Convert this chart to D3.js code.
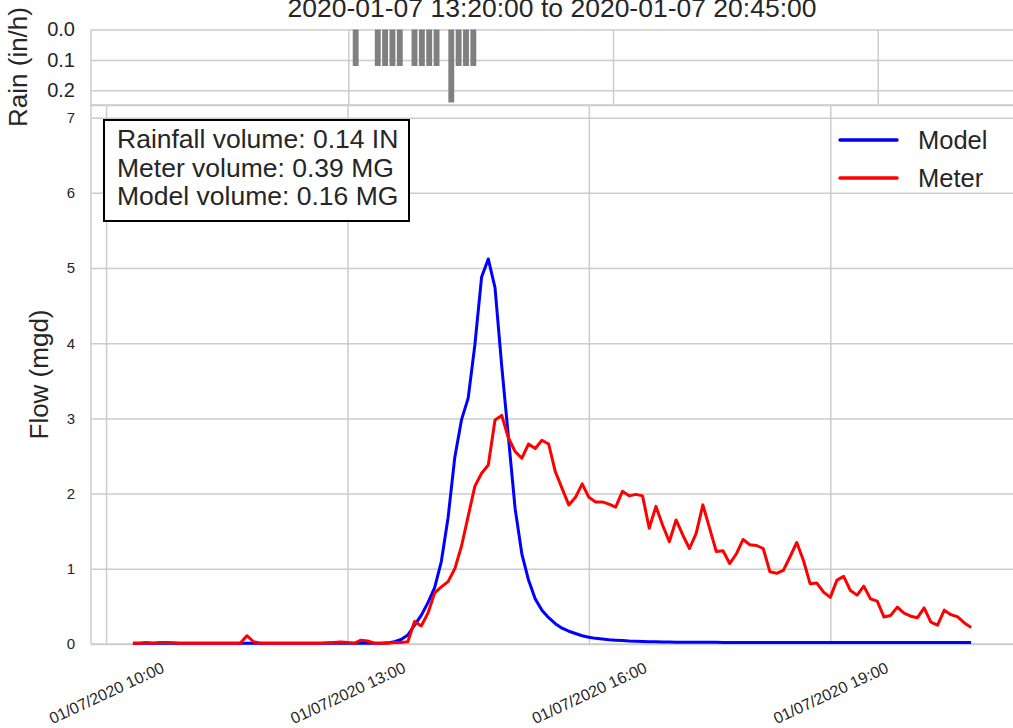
<!DOCTYPE html>
<html>
<head>
<meta charset="utf-8">
<title>Flow vs rain</title>
<script src="https://d3js.org/d3.v7.min.js"></script>
<style>
  body { margin: 0; background: white; }
  svg { display: block; font-family: "Liberation Sans", Arial, sans-serif; }
</style>
</head>
<body>
<svg id="chart" width="1013" height="728"></svg>
<script>
// ---- data ----
const flowStart = "2020-01-07 10:20";   // first flow sample, 5 minute steps
const flowStepMin = 5;

const modelFlow = [
  0.01, 0.01, 0.01, 0.01, 0.01, 0.01, 0.01, 0.01, 0.01, 0.01,
  0.01, 0.01, 0.01, 0.01, 0.01, 0.01, 0.01, 0.01, 0.01, 0.01,
  0.01, 0.01, 0.01, 0.01, 0.01, 0.01, 0.01, 0.01, 0.01, 0.01,
  0.01, 0.01, 0.01, 0.01, 0.01, 0.01, 0.01, 0.01, 0.015, 0.03,
  0.06, 0.12, 0.25, 0.38, 0.55, 0.75, 1.1, 1.68, 2.48, 2.98,
  3.27, 3.98, 4.88, 5.12, 4.74, 3.7, 2.75, 1.8, 1.2, 0.85,
  0.6, 0.45, 0.35, 0.27, 0.21, 0.17, 0.14, 0.11, 0.09, 0.075,
  0.065, 0.055, 0.05, 0.045, 0.04, 0.037, 0.034, 0.031, 0.029, 0.027,
  0.025, 0.024, 0.024, 0.023, 0.023, 0.022, 0.022, 0.022, 0.021, 0.021,
  0.021, 0.021, 0.02, 0.02, 0.02, 0.02, 0.02, 0.02, 0.02, 0.02,
  0.02, 0.02, 0.02, 0.02, 0.02, 0.02, 0.02, 0.02, 0.02, 0.02,
  0.02, 0.02, 0.02, 0.02, 0.02, 0.02, 0.02, 0.02, 0.02, 0.02,
  0.02, 0.02, 0.02, 0.02, 0.02, 0.02
];

const meterFlow = [
  0.01, 0.01, 0.02, 0.01, 0.02, 0.02, 0.015, 0.01, 0.01, 0.01,
  0.01, 0.01, 0.01, 0.01, 0.01, 0.01, 0.01, 0.11, 0.03, 0.01,
  0.01, 0.01, 0.01, 0.01, 0.01, 0.01, 0.01, 0.01, 0.01, 0.015,
  0.02, 0.025, 0.02, 0.01, 0.05, 0.04, 0.01, 0.01, 0.01, 0.02,
  0.02, 0.03, 0.3, 0.24, 0.41, 0.68, 0.76, 0.83, 1.0, 1.3,
  1.7, 2.1, 2.27, 2.38, 2.98, 3.04, 2.74, 2.56, 2.47, 2.66,
  2.6, 2.71, 2.66, 2.29, 2.07, 1.85, 1.95, 2.13, 1.95, 1.89,
  1.89, 1.86, 1.82, 2.03, 1.97, 1.99, 1.97, 1.54, 1.83, 1.58,
  1.36, 1.65, 1.45, 1.27, 1.47, 1.85, 1.54, 1.23, 1.24, 1.07,
  1.2, 1.39, 1.32, 1.31, 1.27, 0.96, 0.94, 0.98, 1.16, 1.35,
  1.11, 0.8, 0.81, 0.69, 0.62, 0.85, 0.9, 0.71, 0.65, 0.77,
  0.6, 0.57, 0.36, 0.38, 0.49, 0.41, 0.37, 0.35, 0.48, 0.29,
  0.25, 0.45, 0.39, 0.36, 0.28, 0.22
];

const rainTimes = ["13:05", "13:20", "13:25", "13:30", "13:35", "13:45", "13:50",
                   "13:55", "14:00", "14:10", "14:15", "14:20", "14:25"];
const rainValues = [0.12, 0.12, 0.12, 0.12, 0.12, 0.12, 0.12,
                    0.12, 0.12, 0.24, 0.12, 0.12, 0.12];

const rainTicks = [0.0, 0.1, 0.2];
const flowTicks = [0, 1, 2, 3, 4, 5, 6, 7];
const timeTicks = ["10:00", "13:00", "16:00", "19:00"];
const seriesNames = ["Model", "Meter"];
const seriesColors = ["#0000ff", "#ff0000"];
const titleText = "2020-01-07 13:20:00 to 2020-01-07 20:45:00";
const boxLines = ["Rainfall volume: 0.14 IN", "Meter volume: 0.39 MG", "Model volume: 0.16 MG"];

// ---- setup ----
const parse = d3.timeParse("%Y-%m-%d %H:%M");
const t0 = parse(flowStart);
const times = modelFlow.map((d, i) => d3.timeMinute.offset(t0, i * flowStepMin));
const rainDates = rainTimes.map(s => parse("2020-01-07 " + s));
const tickDates = timeTicks.map(s => parse("2020-01-07 " + s));

const svg = d3.select("#chart");
const gridColor = "#cccccc";
const textColor = "#262626";

const L = 91, R = 1013;
const mainBox = {top: 105, bottom: 644};
const rainBox = {top: 29.5, bottom: 105.5};

// main x with 5% margins like matplotlib
const span = times[times.length - 1] - times[0];
const x = d3.scaleTime()
  .domain([new Date(+times[0] - span * 0.05), new Date(+times[times.length - 1] + span * 0.05)])
  .range([L, R]);

const yMax = d3.max(modelFlow) * 1.4;
const y = d3.scaleLinear().domain([0, yMax]).range([mainBox.bottom, mainBox.top]);

// rain panel has its own x extent
const xr = d3.scaleTime()
  .domain([parse("2020-01-07 10:05"), parse("2020-01-07 20:32")])
  .range([L, R]);
const yr = d3.scaleLinear().domain([0, 0.25]).range([rainBox.top, rainBox.bottom]);

// ---- rain panel ----
const gTop = svg.append("g");
gTop.append("g")
  .attr("transform", `translate(${L},0)`)
  .call(d3.axisLeft(yr).tickValues(rainTicks).tickFormat(d3.format(".1f")).tickSize(-(R - L)).tickPadding(16))
  .call(g => g.select(".domain").remove())
  .call(g => g.selectAll(".tick line").attr("stroke", gridColor).attr("stroke-width", 1.5))
  .call(g => g.selectAll(".tick text").attr("fill", textColor).attr("font-size", 20));

gTop.append("g")
  .attr("transform", `translate(0,${rainBox.bottom})`)
  .call(d3.axisBottom(xr).tickValues(tickDates.filter(d => xr(d) > L))
    .tickSize(-(rainBox.bottom - rainBox.top)).tickFormat(""))
  .call(g => g.select(".domain").remove())
  .call(g => g.selectAll(".tick line").attr("stroke", gridColor).attr("stroke-width", 1.5));

gTop.selectAll("rect.rain")
  .data(rainDates)
  .join("rect")
  .attr("class", "rain")
  .attr("x", d => xr(d3.timeMinute.offset(d, -2)))
  .attr("width", d => xr(d3.timeMinute.offset(d, 2)) - xr(d3.timeMinute.offset(d, -2)))
  .attr("y", yr(0))
  .attr("height", (d, i) => yr(rainValues[i]) - yr(0))
  .attr("fill", "#808080");

gTop.append("line").attr("x1", L).attr("x2", L).attr("y1", rainBox.top).attr("y2", rainBox.bottom)
  .attr("stroke", gridColor).attr("stroke-width", 1.5);
gTop.append("line").attr("x1", L).attr("x2", R).attr("y1", rainBox.bottom).attr("y2", rainBox.bottom)
  .attr("stroke", gridColor).attr("stroke-width", 1.5);

svg.append("text")
  .attr("transform", "translate(27,67) rotate(-90)")
  .attr("text-anchor", "middle")
  .attr("fill", textColor)
  .attr("font-size", 26)
  .text("Rain (in/h)");

svg.append("text")
  .attr("x", (L + R) / 2).attr("y", 17)
  .attr("text-anchor", "middle")
  .attr("fill", textColor)
  .attr("font-size", 26.5)
  .text(titleText);

// ---- main panel ----
const gMain = svg.append("g");
gMain.append("g")
  .attr("transform", `translate(${L},0)`)
  .call(d3.axisLeft(y).tickValues(flowTicks).tickFormat(d3.format("d")).tickSize(-(R - L)).tickPadding(16))
  .call(g => g.select(".domain").remove())
  .call(g => g.selectAll(".tick line").attr("stroke", gridColor).attr("stroke-width", 1.5))
  .call(g => g.selectAll(".tick text").attr("fill", textColor).attr("font-size", 15));

const xAxis = gMain.append("g")
  .attr("transform", `translate(0,${mainBox.bottom})`)
  .call(d3.axisBottom(x).tickValues(tickDates).tickSize(-(mainBox.bottom - mainBox.top))
    .tickFormat(d3.timeFormat("%m/%d/%Y %H:%M")))
  .call(g => g.select(".domain").remove())
  .call(g => g.selectAll(".tick line").attr("stroke", gridColor).attr("stroke-width", 1.5));

xAxis.selectAll(".tick text")
  .attr("fill", textColor)
  .attr("font-size", 16)
  .attr("y", 0).attr("dy", 0)
  .attr("text-anchor", "middle")
  .attr("dominant-baseline", "central")
  .attr("transform", "translate(0,49) rotate(-25)");

// frame
gMain.append("line").attr("x1", L).attr("x2", L).attr("y1", mainBox.top).attr("y2", mainBox.bottom)
  .attr("stroke", gridColor).attr("stroke-width", 1.5);
gMain.append("line").attr("x1", L).attr("x2", R).attr("y1", mainBox.bottom).attr("y2", mainBox.bottom)
  .attr("stroke", gridColor).attr("stroke-width", 1.5);
gMain.append("line").attr("x1", L).attr("x2", R).attr("y1", mainBox.top).attr("y2", mainBox.top)
  .attr("stroke", gridColor).attr("stroke-width", 1.5);

const line = d3.line().x((d, i) => x(times[i])).y(d => y(d));
[modelFlow, meterFlow].forEach((s, k) => {
  gMain.append("path")
    .datum(s)
    .attr("d", line)
    .attr("fill", "none")
    .attr("stroke", seriesColors[k])
    .attr("stroke-width", 3)
    .attr("stroke-linejoin", "round");
});

svg.append("text")
  .attr("transform", `translate(48,${(mainBox.top + mainBox.bottom) / 2}) rotate(-90)`)
  .attr("text-anchor", "middle")
  .attr("fill", textColor)
  .attr("font-size", 26)
  .text("Flow (mgd)");

// legend
const leg = svg.append("g").attr("transform", "translate(840,140)");
seriesNames.forEach((n, k) => {
  leg.append("line").attr("x1", 0).attr("x2", 57).attr("y1", k * 38).attr("y2", k * 38)
    .attr("stroke", seriesColors[k]).attr("stroke-width", 3.5).attr("stroke-linecap", "round");
  leg.append("text").attr("x", 78).attr("y", k * 38 + 9)
    .attr("fill", textColor).attr("font-size", 25.5).text(n);
});

// volume box
const box = svg.append("g");
box.append("rect").attr("x", 104).attr("y", 120).attr("width", 305).attr("height", 101)
  .attr("fill", "white").attr("stroke", "black").attr("stroke-width", 2);
box.selectAll("text")
  .data(boxLines)
  .join("text")
  .attr("x", 117)
  .attr("y", (d, i) => 148 + i * 28.5)
  .attr("fill", textColor)
  .attr("font-size", 26.5)
  .text(d => d);
</script>
</body>
</html>
